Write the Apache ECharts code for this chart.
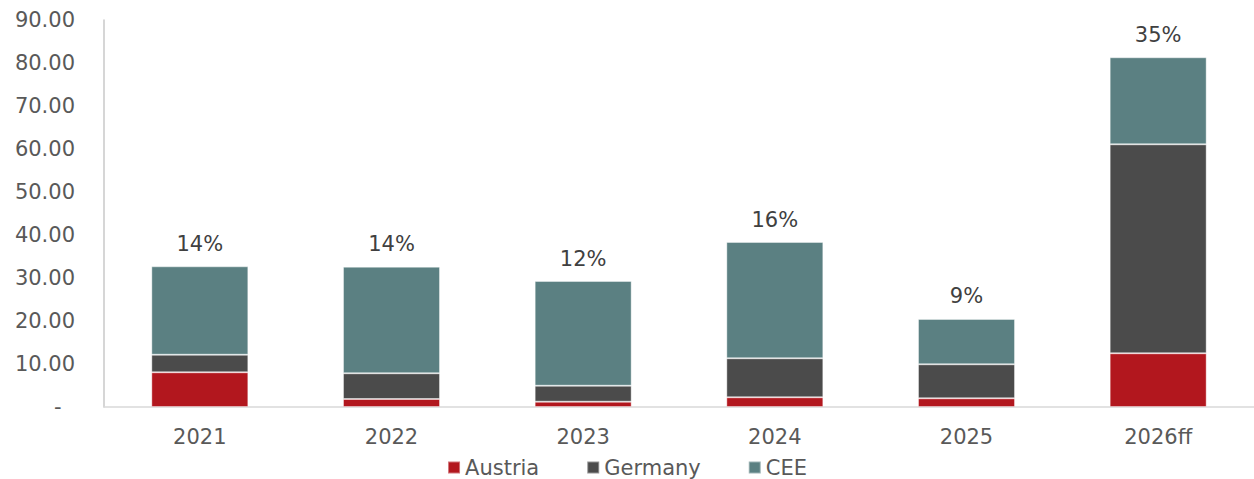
<!DOCTYPE html>
<html>
<head>
<meta charset="utf-8">
<script src="https://cdn.jsdelivr.net/npm/echarts@6/dist/echarts.min.js"></script>
<style>
  html, body { margin: 0; padding: 0; background: #fff; }
  #chart { width: 1254px; height: 479px; }
</style>
</head>
<body>
<div id="chart"></div>
<script>
// data
var categories = ["2021", "2022", "2023", "2024", "2025", "2026ff"];
var austria = [8.07, 1.86, 1.23, 2.26, 2.02, 12.49];
var germany = [4.09, 5.98, 3.72, 9.07, 7.91, 48.6];
var cee = [20.56, 24.79, 24.35, 27.04, 10.54, 20.24];
var shareLabels = ["14%", "14%", "12%", "16%", "9%", "35%"];
var yTicks = { min: 0, max: 90, interval: 10 };

var font = "DejaVu Sans";
var myChart = echarts.init(document.getElementById("chart"), null, { renderer: "svg" });

function barSeries(name, data, color) {
  return {
    name: name,
    type: "bar",
    stack: "total",
    data: data,
    barWidth: "50.6%",
    animation: false,
    itemStyle: {
      color: color,
      borderColor: "rgba(255,255,255,0.4)",
      borderWidth: 1
    }
  };
}

var series = [
  barSeries("Austria", austria, "#b2171e"),
  barSeries("Germany", germany, "#4b4b4b"),
  barSeries("CEE", cee, "#5b8082")
];
// percentage labels on top of the stack
series[2].label = {
  show: true,
  position: "top",
  distance: 12,
  color: "#404040",
  fontFamily: font,
  fontSize: 21,
  formatter: function(p) {
    return shareLabels[p.dataIndex];
  }
};

myChart.setOption({
  textStyle: { fontFamily: font, fontSize: 21 },
  grid: {
    left: 104,
    right: 0,
    top: 20,
    bottom: 72
  },
  legend: {
    data: ["Austria", "Germany", "CEE"],
    left: "center",
    top: 452,
    icon: "rect",
    itemWidth: 12,
    itemHeight: 12,
    itemGap: 47,
    textStyle: {
      color: "#595959",
      fontFamily: font,
      fontSize: 21
    }
  },
  xAxis: {
    type: "category",
    data: categories,
    axisTick: { show: false },
    axisLine: { lineStyle: { color: "#d9d9d9", width: 1.5 } },
    axisLabel: {
      color: "#595959",
      fontFamily: font,
      fontSize: 21,
      margin: 19
    }
  },
  yAxis: {
    type: "value",
    min: yTicks.min,
    max: yTicks.max,
    interval: yTicks.interval,
    splitLine: { show: false },
    axisTick: { show: false },
    axisLine: { show: true, lineStyle: { color: "#c8c8c8", width: 1.5 } },
    axisLabel: {
      color: "#595959",
      fontFamily: font,
      fontSize: 21,
      margin: 29,
      formatter: function(v) {
        return v === 0 ? "-  " : v.toFixed(2);
      }
    }
  },
  series: series
});
</script>
</body>
</html>
